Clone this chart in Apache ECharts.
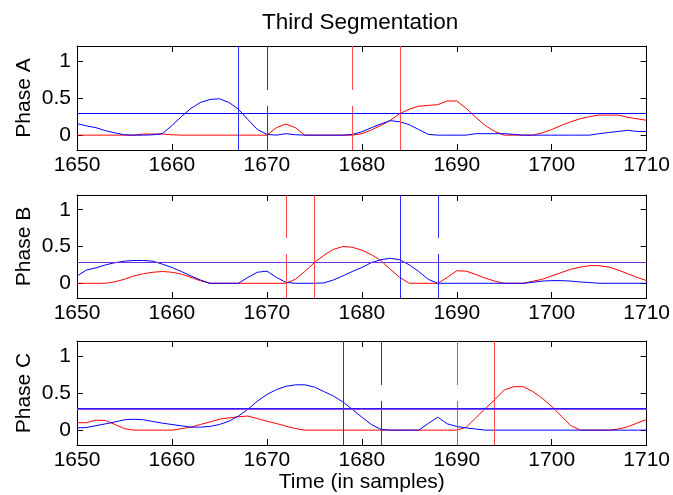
<!DOCTYPE html>
<html>
<head>
<meta charset="utf-8">
<script src="https://cdn.jsdelivr.net/npm/echarts@6/dist/echarts.min.js"></script>
<style>html,body{margin:0;padding:0;background:#fff}#c{width:673px;height:495px}</style>
</head>
<body>
<div id="c"></div>
<script>
// ---- data ----
var tStart = 1650, tEnd = 1710;
var title = 'Third Segmentation';
var xName = 'Time (in samples)';
var panelNames = ['Phase A', 'Phase B', 'Phase C'];
var xTicks = [1650, 1660, 1670, 1680, 1690, 1700, 1710];
var yTicks = [0, 0.5, 1];

var aBlue = [0.155,0.125,0.1,0.06,0.03,0.005,0,0,0.005,0.02,
             0.13,0.25,0.36,0.44,0.48,0.49,0.44,0.35,0.21,0.075,
             0.01,0,0.02,0.005,0,0,0,0,0,0.01,
             0.045,0.1,0.15,0.195,0.18,0.14,0.075,0.01,0,0,
             0,0,0.02,0.02,0.02,0.02,0.01,0,0,0,
             0,0,0,0,0,0.02,0.035,0.05,0.065,0.05,
             0.05];
var aRed = [0,0,0,0,0,0,0,0.015,0.015,0.015,
            0.005,0,0,0,0,0,0,0,0,0,
            0,0.1,0.15,0.1,0,0,0,0,0,0,
            0.02,0.07,0.13,0.2,0.29,0.35,0.39,0.4,0.41,0.46,
            0.46,0.36,0.24,0.13,0.05,0,0,0,0,0.03,
            0.075,0.13,0.18,0.22,0.25,0.27,0.27,0.27,0.24,0.22,
            0.2];
var bBlue = [0.1,0.18,0.21,0.25,0.28,0.3,0.31,0.31,0.3,0.26,
             0.215,0.16,0.1,0.045,0,0,0,0,0.08,0.15,
             0.165,0.08,0.013,0,0,0,0.005,0.045,0.1,0.16,
             0.215,0.28,0.32,0.34,0.32,0.25,0.16,0.054,0,0,
             0,0,0,0,0,0,0,0,0.013,0.03,
             0.036,0.036,0.03,0.018,0.01,0,0,0,0,0,
             0];
var bRed = [0,0,0,0,0.02,0.055,0.1,0.13,0.15,0.16,
            0.15,0.125,0.08,0.035,0,0,0,0,0,0,
            0,0,0,0.055,0.16,0.28,0.38,0.46,0.5,0.49,
            0.45,0.39,0.31,0.19,0.08,0,0,0,0,0.08,
            0.17,0.165,0.12,0.07,0.03,0,0,0,0.027,0.054,
            0.1,0.145,0.19,0.22,0.24,0.24,0.22,0.18,0.13,0.08,
            0.036];
var cBlue = [0.03,0.035,0.06,0.085,0.11,0.14,0.147,0.14,0.116,0.094,
             0.076,0.058,0.04,0.04,0.05,0.076,0.12,0.19,0.28,0.39,
             0.48,0.545,0.59,0.61,0.61,0.58,0.52,0.46,0.38,0.28,
             0.175,0.077,0.01,0,0,0,0,0.09,0.175,0.085,
             0.05,0.03,0.015,0,0,0,0,0,0,0,
             0,0,0,0,0,0,0,0,0,0,
             0];
var cRed = [0.1,0.1,0.135,0.13,0.076,0.02,0,0,0,0,
            0,0.02,0.04,0.076,0.11,0.147,0.165,0.18,0.19,0.156,
            0.12,0.09,0.054,0.022,0,0,0,0,0,0,
            0,0,0,0,0,0,0,0,0,0,
            0,0.04,0.165,0.29,0.41,0.54,0.585,0.585,0.52,0.43,
            0.32,0.19,0.063,0,0,0,0,0.014,0.045,0.095,
            0.144];

// segmentation markers per panel (sample positions)
var aBlueMarks = {solid: 1667, dashed: 1670};
var aRedMarks  = {solid: 1684, dashed: 1679};
var bBlueMarks = {solid: 1684, dashed: 1688};
var bRedMarks  = {solid: 1675, dashed: 1672};
var cBlueMarks = {solid: 1678, dashed: 1682};
var cRedMarks  = {solid: 1694, dashed: 1690};
// thresholds
var thrA = [{v: 0.29, c: '#0000ff'}];
var thrB = [{v: 0.29, c: '#7a2ed6'}];
var thrC = [{v: 0.285, c: '#a040e0'}, {v: 0.298, c: '#2020ff'}];

// ---- build ----
var xs = [];
for (var t = tStart; t <= tEnd; t++) xs.push(t);
function pairs(arr){ return arr.map(function(v,i){ return [xs[i], v]; }); }

var grids = [
  {left: 77, right: 25, top: 46, height: 104},
  {left: 77, right: 25, top: 195, height: 103},
  {left: 77, right: 25, top: 341, height: 104}
];
var FONT = 'Liberation Sans, Arial, sans-serif';
var RED_V = '#ff4a4a', BLUE_V = '#2a2aff';
var xAxes = [], yAxes = [], series = [];
var blues = [aBlue, bBlue, cBlue], reds = [aRed, bRed, cRed];
var bm = [aBlueMarks, bBlueMarks, cBlueMarks], rm = [aRedMarks, bRedMarks, cRedMarks];
var thr = [thrA, thrB, thrC];

function markSeries(i, col, item, dash){
  return {
    type: 'line', xAxisIndex: 2*i, yAxisIndex: 2*i, data: [],
    color: col, showSymbol: false, symbol: 'none', silent: true, animation: false, z: 4,
    markLine: {
      silent: true, symbol: ['none', 'none'], animation: false, label: {show: false},
      lineStyle: {color: col, width: 1, type: dash ? [44, 16] : 'solid', opacity: 1},
      emphasis: {disabled: true},
      data: [item]
    }
  };
}

grids.forEach(function(g, i){
  var base = {
    gridIndex: i, type: 'value', min: tStart, max: tEnd, interval: 10,
    splitLine: {show: false},
    axisLine: {show: true, onZero: false, lineStyle: {color: '#000', width: 1}},
    axisTick: {show: true, inside: true, length: 6, lineStyle: {color: '#000'}}
  };
  xAxes.push(Object.assign({}, base, {
    position: 'bottom',
    axisLabel: {show: true, color: '#000', fontSize: 21, fontFamily: FONT, margin: 5,
      formatter: function(v){ return String(v); }},
    name: i === 2 ? xName : '', nameLocation: 'middle', nameGap: 27, nameMoveOverlap: false,
    nameTextStyle: {color: '#000', fontSize: 21, fontFamily: FONT}
  }));
  xAxes.push(Object.assign({}, base, {position: 'top', axisLabel: {show: false}}));
  var ybase = {
    gridIndex: i, type: 'value', min: -0.2, max: 1.2,
    splitLine: {show: false},
    axisLine: {show: true, onZero: false, lineStyle: {color: '#000', width: 1}},
    axisTick: {show: true, inside: true, length: 6, customValues: yTicks, lineStyle: {color: '#000'}}
  };
  yAxes.push(Object.assign({}, ybase, {
    position: 'left',
    axisLabel: {show: true, customValues: yTicks, color: '#000', fontSize: 21, fontFamily: FONT, margin: 6,
      formatter: function(v){ return String(v); }},
    name: panelNames[i], nameLocation: 'middle', nameGap: 42, nameRotate: 90, nameMoveOverlap: false,
    nameTextStyle: {color: '#000', fontSize: 21, fontFamily: FONT}
  }));
  yAxes.push(Object.assign({}, ybase, {position: 'right', axisLabel: {show: false}}));

  series.push({
    type: 'line', xAxisIndex: 2*i, yAxisIndex: 2*i, data: pairs(reds[i]),
    showSymbol: false, symbol: 'none', color: '#ff0000',
    lineStyle: {color: '#ff0000', width: 1}, z: 2, animation: false
  });
  series.push({
    type: 'line', xAxisIndex: 2*i, yAxisIndex: 2*i, data: pairs(blues[i]),
    showSymbol: false, symbol: 'none', color: '#0000ff',
    lineStyle: {color: '#0000ff', width: 1}, z: 3, animation: false
  });
  series.push(markSeries(i, RED_V, {xAxis: rm[i].solid}, false));
  series.push(markSeries(i, RED_V, {xAxis: rm[i].dashed}, true));
  series.push(markSeries(i, BLUE_V, {xAxis: bm[i].solid}, false));
  series.push(markSeries(i, BLUE_V, {xAxis: bm[i].dashed}, true));
  thr[i].forEach(function(h){
    series.push(markSeries(i, h.c, {yAxis: h.v}, false));
  });
});

var chart = echarts.init(document.getElementById('c'), null, {renderer: 'canvas'});
chart.setOption({
  animation: false,
  backgroundColor: '#fff',
  title: {text: title, left: 262, top: 11, padding: 0,
    textStyle: {color: '#000', fontSize: 22.5, fontWeight: 'normal', fontFamily: FONT}},
  grid: grids,
  xAxis: xAxes,
  yAxis: yAxes,
  series: series
});
</script>
</body>
</html>
